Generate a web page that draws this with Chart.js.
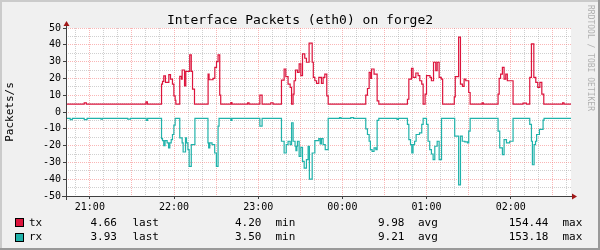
<!DOCTYPE html>
<html><head><meta charset="utf-8">
<script src="https://cdn.jsdelivr.net/npm/chart.js@4/dist/chart.umd.min.js"></script>
<style>
html,body{margin:0;padding:0;background:#F0F0F0;}
#wrap{position:relative;width:600px;height:250px;overflow:hidden;font-family:'DejaVu Sans Mono',monospace;}
#c{position:absolute;left:0;top:0;}
.t{position:absolute;white-space:pre;color:#000;}
.sw{position:absolute;width:7px;height:7px;border:1px solid #000;}
</style></head><body>
<div id="wrap">
<canvas id="c" width="600" height="250"></canvas>
<div id="title" class="t" style="left:0;width:600px;text-align:center;top:13px;font-size:13px;line-height:13px;">Interface Packets (eth0) on forge2</div>
<div id="wm" class="t" style="left:586px;top:5px;font-size:8px;line-height:9px;writing-mode:vertical-rl;color:#b0b0b0;">RRDTOOL / TOBI OETIKER</div>
<div id="legend"></div>
</div>
<script>
// ---- data (minutes after 21:00, packets/s) ----
const txMinutes = [-17,-4,-2.5,40,41,51.1,51.8,52.7,53.9,56.3,57.5,58.9,59.9,60.8,61.3,64.1,65.3,65.8,67.5,68.4,71.2,72.3,73.2,74.6,84.3,85,87.8,89.1,90.3,91.4,92.6,93.3,100.5,101.3,112.5,113.5,121.2,122.8,129,130.6,136.6,138.5,139.7,141.3,142.8,143.8,144.9,145.6,146.6,148,149.2,150.4,151.6,153.2,154.4,156.3,158.5,159.3,160.4,161.6,163.2,165.1,166.3,167.5,168.9,169.9,196.7,197.9,199.1,200.2,200.8,202.6,204.8,206,226.4,227.4,229.3,230.4,232.4,234,235.2,236.6,237.6,239,240,242.5,243.5,245,246.6,247.6,249,250.5,251.5,259.8,260.5,262.9,264.2,265.6,266.8,268,270.1,271.1,279.6,280.5,291,291.8,292.8,294.1,295.3,296.5,297.6,301.7,308.8,311.2,313.6,314.8,316.5,317.9,319.3,320.8,322.2,323.6,337,338,343];
const txValues  = [4.7,5.4,4.7,6,4.7,16.6,18.2,21.5,17.6,22.2,19.6,16.6,9.6,7,4.7,21.2,19.6,25,15.6,24.2,34,24.2,13.6,4.7,22.6,19.2,20,26.6,30,34,10,4.7,5.6,4.7,5.4,4.7,10,4.7,5.5,4.7,19,25.6,21,16.6,14.6,4.7,10.6,18.6,25,23.6,28.6,21.6,34.6,32,29.6,41,29.6,20.6,18.6,17,20.6,17,20.6,22.6,9.6,4.7,10,14,23.6,20,25.6,22.6,6.6,4.7,7.6,19.6,26,20.6,23.2,21.6,18.6,16.6,4.7,10.6,21.6,20.6,18.6,29.6,24.6,29.6,20.6,19.6,4.7,9,21,44.6,16.6,15.2,19.6,18.6,11.6,4.7,5.5,4.7,10.6,20,22.6,26.6,19.6,22.6,18.6,4.7,5.3,4.7,20.6,40.6,20.6,17.6,14.6,17.6,10.6,4.7,5.4,4.7,4.7];
const rxMinutes = [-17,-14,-12.5,-4,-2,8,9,27,29,40.2,41.2,51.1,51.8,52.7,53.6,55.1,56.1,57,58,58.9,59.9,60.8,64.1,65.8,66.5,68.2,68.9,69.9,70.8,72.3,74.9,84.2,84.7,85.5,87.1,89,90.2,91.4,92.1,100.5,101.3,121.2,122.8,136.6,138.5,140,141.3,142.8,143.8,144.9,146.3,146.9,147.6,148,149.2,150.4,151.6,152.8,154.4,155.6,156.5,158.5,160.4,163.2,164.2,165.1,166.3,167.8,169.9,178,179,186,188,196.7,197.9,199.1,200,201.2,202.6,203.9,204.8,206,219,220,226.4,227.4,228.6,229.5,230.4,231.5,232.6,235,236.6,237.6,240,241.1,242.3,243.5,244.7,245.9,247.6,249,250.7,260.1,262.9,264.2,265.5,267.3,269.2,270.1,271.1,291,292.2,294.1,295.3,297,299.3,301.7,313.6,314.8,315.5,316.7,317.7,318.5,320.5,323.1,323.8,343];
const rxValues  = [-3.8,-4.5,-3.8,-4.5,-3.8,-4.3,-3.8,-4.3,-3.8,-5,-3.8,-15.8,-17,-20,-17,-18.4,-21.4,-18.4,-16.4,-13.4,-7.8,-3.8,-15.4,-18.4,-23.8,-15.4,-18.4,-22.4,-32.4,-19.4,-3.8,-18.4,-21.4,-18.4,-19.4,-24.4,-32.4,-8.4,-3.8,-5,-3.8,-8.4,-3.8,-17.4,-24.4,-19.4,-17.4,-19.4,-6.4,-17.4,-20.4,-23,-20.4,-17.4,-26.4,-21,-29.4,-33.4,-28.4,-20.4,-40,-24.4,-17,-15.8,-19,-15.8,-19.4,-22.4,-3.8,-3.3,-3.8,-3.3,-3.8,-10,-13.4,-17.4,-22.4,-23.4,-21.4,-22.4,-5,-3.8,-4.4,-3.8,-7.4,-16.4,-19.4,-24.4,-19.4,-17.4,-13.4,-12.4,-7.4,-3.8,-7.4,-17.4,-22.4,-25,-28.4,-20.4,-17.4,-28.4,-3.8,-14.4,-43.4,-14.4,-17.4,-17.8,-18.4,-11.4,-3.8,-11.4,-21.4,-25.4,-16.4,-18.4,-17.4,-3.8,-7.4,-17.4,-31.4,-19.4,-17.4,-13.4,-10.4,-4.8,-3.8,-3.8];
const hourTicks  = [0,60,120,180,240,300];
const hourLabels = ['21:00','22:00','23:00','00:00','01:00','02:00'];
const yTickLabels = [-50,-40,-30,-20,-10,0,10,20,30,40,50];
const seriesNames = ['tx','rx'];
const statNames = ['last','min','avg','max'];
const txStats = [4.66, 4.20, 9.98, 154.44];
const rxStats = [3.93, 3.50, 9.21, 153.18];

// ---- styles ----
const TX_COLOR = '#DC143C', RX_COLOR = '#20B2AA';
const MAJOR = 'rgba(245,110,110,0.5)', MINOR = 'rgba(150,150,150,0.45)';
const X_MIN = -17, X_MAX = 343;

const zip = (xs, ys) => xs.map((x, i) => ({x, y: ys[i]}));

const framePlugin = {
  id: 'frame',
  beforeDraw(chart) {
    const {ctx, chartArea: a} = chart;
    ctx.save();
    ctx.fillStyle = '#F0F0F0'; ctx.fillRect(0, 0, 600, 250);
    ctx.fillStyle = '#CBCBCB'; ctx.fillRect(0, 0, 600, 2); ctx.fillRect(0, 0, 2, 250);
    ctx.fillStyle = '#999999'; ctx.fillRect(0, 248, 600, 2); ctx.fillRect(598, 0, 2, 250);
    ctx.fillStyle = '#FFFFFF'; ctx.fillRect(a.left, a.top, a.right - a.left, a.bottom - a.top);
    ctx.restore();
  },
  afterDraw(chart) {
    const {ctx, chartArea: a} = chart;
    ctx.save();
    ctx.strokeStyle = '#404040'; ctx.lineWidth = 1;
    const ax = a.left + 0.5, ay = a.bottom + 0.5;
    ctx.beginPath(); ctx.moveTo(ax, a.bottom + 4); ctx.lineTo(ax, a.top - 2); ctx.stroke();
    ctx.beginPath(); ctx.moveTo(a.left - 4, ay); ctx.lineTo(a.right + 2, ay); ctx.stroke();
    ctx.fillStyle = '#A01818';
    ctx.beginPath(); ctx.moveTo(ax - 3, a.top - 2); ctx.lineTo(ax + 3, a.top - 2); ctx.lineTo(ax, a.top - 7); ctx.closePath(); ctx.fill();
    ctx.beginPath(); ctx.moveTo(a.right + 1, ay - 3); ctx.lineTo(a.right + 1, ay + 3); ctx.lineTo(a.right + 6, ay); ctx.closePath(); ctx.fill();
    ctx.restore();
  }
};

new Chart(document.getElementById('c'), {
  type: 'line',
  data: {
    datasets: [
      {label: seriesNames[0], data: zip(txMinutes, txValues), borderColor: TX_COLOR, borderWidth: 1.2, stepped: true, pointRadius: 0, fill: false},
      {label: seriesNames[1], data: zip(rxMinutes, rxValues), borderColor: RX_COLOR, borderWidth: 1.2, stepped: true, pointRadius: 0, fill: false}
    ]
  },
  options: {
    responsive: false, animation: false, devicePixelRatio: 1,
    layout: {padding: {left: 0, top: 28, right: 29, bottom: 34}},
    plugins: {legend: {display: false}, title: {display: false}, tooltip: {enabled: false}},
    scales: {
      x: {
        type: 'linear', min: X_MIN, max: X_MAX,
        afterBuildTicks: s => { const t = []; for (let v = Math.ceil(X_MIN / 10) * 10; v <= X_MAX; v += 10) t.push({value: v}); s.ticks = t; },
        afterFit: s => { s.height = 20; },
        ticks: {autoSkip: false, maxRotation: 0, minRotation: 0, padding: 2, color: '#000',
          font: {family: 'DejaVu Sans Mono', size: 10},
          callback: v => { const i = hourTicks.indexOf(v); return i >= 0 ? hourLabels[i] : ''; }},
        grid: {
          color: c => (c.tick && c.tick.value % 30 === 0) ? MAJOR : MINOR,
          tickColor: c => (c.tick && hourTicks.includes(c.tick.value)) ? '#404040' : 'rgba(0,0,0,0)',
          tickLength: 3, lineWidth: 1
        },
        border: {display: false, dash: [1, 1]}
      },
      y: {
        min: -50, max: 50,
        afterBuildTicks: s => { const t = []; for (let v = -50; v <= 50; v += 5) t.push({value: v}); s.ticks = t; },
        afterFit: s => { s.width = 66; },
        ticks: {autoSkip: false, padding: 2, color: '#000', font: {family: 'DejaVu Sans Mono', size: 10},
          callback: v => yTickLabels.includes(v) ? String(v) : ''},
        title: {display: true, text: 'Packets/s', color: '#000', font: {family: 'DejaVu Sans Mono', size: 11}, padding: {top: 4, bottom: 0}},
        grid: {
          color: c => (c.tick && c.tick.value % 10 === 0) ? MAJOR : MINOR,
          tickColor: c => (c.tick && c.tick.value % 10 === 0) ? '#404040' : 'rgba(0,0,0,0)',
          tickLength: 3, lineWidth: 1
        },
        border: {display: false, dash: [1, 1]}
      }
    }
  },
  plugins: [framePlugin]
});

// ---- legend (HTML text) ----
const legend = document.getElementById('legend');
const rowTops = [216.5, 231];
const numRight = [117, 261.5, 404.5, 548.5];
const wordLeft = [132.5, 275.5, 418, 562.5];
[[seriesNames[0], TX_COLOR, txStats], [seriesNames[1], RX_COLOR, rxStats]].forEach(([name, col, stats], r) => {
  const top = rowTops[r];
  const sw = document.createElement('div'); sw.className = 'sw';
  sw.style.left = '15px'; sw.style.top = (top + 1.5) + 'px'; sw.style.background = col; legend.appendChild(sw);
  const add = (txt, style) => { const d = document.createElement('div'); d.className = 't'; d.textContent = txt;
    Object.assign(d.style, {top: top + 'px', fontSize: '11px', lineHeight: '11px'}, style); legend.appendChild(d); };
  add(name, {left: '29px'});
  stats.forEach((v, i) => {
    add(v.toFixed(2), {right: (600 - numRight[i]) + 'px', textAlign: 'right'});
    add(statNames[i], {left: wordLeft[i] + 'px'});
  });
});
</script>
</body></html>
